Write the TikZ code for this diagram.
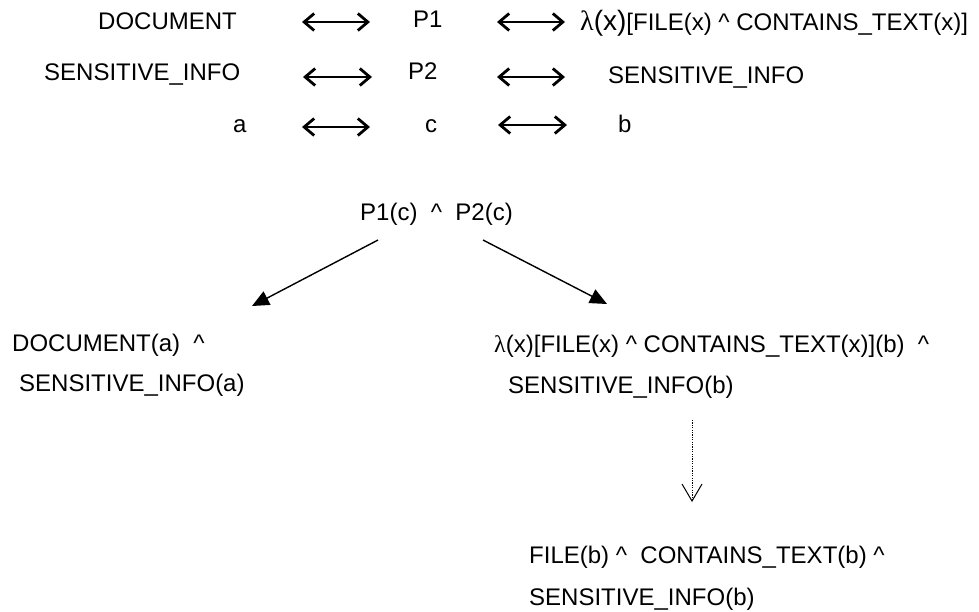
\documentclass[tikz,border=0pt]{standalone}
\usepackage{fontspec}
\setmainfont{Liberation Sans}
\newfontfamily\lamfont{Liberation Serif}
\usetikzlibrary{arrows.meta}
\newcommand{\caret}{\textasciicircum}
\begin{document}
\begin{tikzpicture}[x=1pt,y=-1pt,
  txt/.style={anchor=base west, inner sep=0pt, font=\fontsize{24}{28}\selectfont},
  dbl/.style={line width=2.8pt, line join=round,
    {Straight Barb[length=10pt,width=17pt]}-{Straight Barb[length=10pt,width=17pt]}},
  treearrow/.style={line width=1.4pt, -{Triangle[length=17pt,width=15pt]}},
  infer/.style={line width=1pt, dash pattern=on 1.2pt off 1.2pt, -{Straight Barb[length=17pt,width=20pt]}}]
\useasboundingbox (0,0) rectangle (979,611);
% row 1
\node[txt] (doc) at (98,29) {DOCUMENT};
\node[txt] (p1) at (413,27) {P1};
\node[txt] (lam) at (580,30) {\fontsize{28}{32}\selectfont{\lamfont λ}(x)\fontsize{24}{28}\selectfont[FILE(x) \caret{} CONTAINS\_TEXT(x)]};
% row 2
\node[txt] (sensL) at (44,80) {SENSITIVE\_INFO};
\node[txt] (p2) at (408,79) {P2};
\node[txt] (sensR) at (608,83) {SENSITIVE\_INFO};
% row 3
\node[txt] (a) at (233,132) {a};
\node[txt] (c) at (425,132) {c};
\node[txt] (b) at (618,132) {b};
% arrow end points
\coordinate (r1a) at (302,22); \coordinate (r1b) at (370,22);
\coordinate (r1c) at (497,22); \coordinate (r1d) at (565,22);
\coordinate (r2a) at (303,77); \coordinate (r2b) at (372,77);
\coordinate (r2c) at (497,77); \coordinate (r2d) at (565,77);
\coordinate (r3a) at (302,127); \coordinate (r3b) at (370,127);
\coordinate (r3c) at (498,125); \coordinate (r3d) at (567,125);
\draw[dbl] (r1a) -- (r1b);
\draw[dbl] (r1c) -- (r1d);
\draw[dbl] (r2a) -- (r2b);
\draw[dbl] (r2c) -- (r2d);
\draw[dbl] (r3a) -- (r3b);
\draw[dbl] (r3c) -- (r3d);
% tree
\node[txt] (top) at (360,220) {P1(c)\ \ \caret\ \ P2(c)};
\node[txt] (left1) at (12,351) {DOCUMENT(a)\ \ \caret};
\node[txt] (left2) at (19,391) {SENSITIVE\_INFO(a)};
\node[txt] (right1) at (494,352) {{\lamfont λ}(x)[FILE(x) \caret{} CONTAINS\_TEXT(x)](b)\ \ \caret};
\node[txt] (right2) at (508,393) {SENSITIVE\_INFO(b)};
\node[txt] (bot1) at (529,563) {FILE(b) \caret\ \ CONTAINS\_TEXT(b) \caret};
\node[txt] (bot2) at (529,605) {SENSITIVE\_INFO(b)};
\coordinate (tl) at (378,240); \coordinate (tlend) at (252,306);
\coordinate (tr) at (483,240); \coordinate (trend) at (607,304);
\coordinate (ds) at (692,420); \coordinate (de) at (692,502);
\draw[treearrow] (tl) -- (tlend);
\draw[treearrow] (tr) -- (trend);
\draw[infer] (ds) -- (de);
\end{tikzpicture}
\end{document}
